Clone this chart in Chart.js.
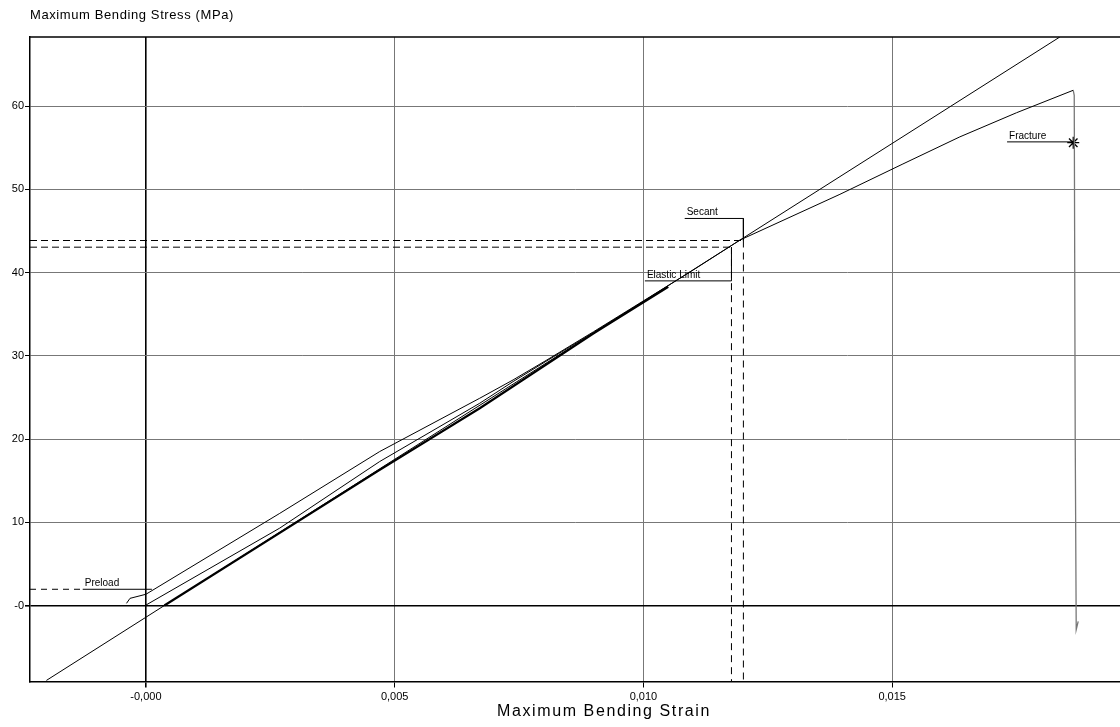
<!DOCTYPE html>
<html>
<head>
<meta charset="utf-8">
<script src="https://cdn.jsdelivr.net/npm/chart.js@4.4.1/dist/chart.umd.min.js"></script>
<style>
  body { margin: 0; background: #fff; overflow: hidden; }
  #wrap { width: 1120px; height: 727px; position: relative; }
</style>
</head>
<body>
<div id="wrap"><canvas id="stressChart"></canvas></div>
<script>
// axis ranges and ticks
var strainMin = -0.00233, strainMax = 0.01958;
var stressMin = -9.13, stressMax = 68.3;
var strainStep = 0.005, stressStep = 10;

// loading curve (from preload to fracture)
var loadStrain = [-0.00039, -0.00032, 0, 0.00269, 0.0047, 0.00671, 0.00738, 0.00806, 0.0090, 0.0100, 0.0110, 0.01194, 0.01395, 0.0152, 0.01636, 0.0175, 0.01864];
var loadStress = [0.26, 0.86, 1.35, 11.07, 18.5, 24.9, 27.1, 29.5, 32.9, 36.6, 40.3, 43.9, 49.4, 53.0, 56.3, 59.2, 61.9];

// drop after fracture
var dropStrain = [0.01864, 0.01866, 0.01868, 0.01870, 0.01874];
var dropStress = [61.9, 61.3, 20.0, -2.9, -1.9];

// second curve starting at zero
var zeroStrain = [0, 0.00269, 0.0047, 0.00671, 0.00738, 0.00806, 0.0090, 0.0100];
var zeroStress = [0.05, 9.3, 17.3, 24.3, 26.9, 29.4, 32.8, 36.5];

// heavy curve lying on the secant
var heavyStrain = [0.00037, 0.0047, 0.00671, 0.0090, 0.0105];
var heavyStress = [0, 16.3, 23.7, 32.7, 38.3];

// secant line
var secantStrain = [-0.0020, 0.01837];
var secantStress = [-9.0, 68.3];

// marked points
var preloadPt = [0.00012, 1.95];
var secantPt = [0.01201, 43.85];
var elasticPt = [0.01177, 43.05];
var fracturePt = [0.01864, 55.6];

// label texts and leader lines
var labelText = ['Preload', 'Secant', 'Elastic Limit', 'Fracture'];
var labelStrain = [-0.00127, 0.01083, 0.01003, 0.01731];
var labelStress = [1.95, 46.5, 39.0, 55.7];

function pts(xs, ys) {
    return xs.map(function(x, i) { return {x: x, y: ys[i]}; });
}

function line(data, opts) {
    var ds = {
        data: data,
        borderColor: '#000',
        borderWidth: 1,
        pointRadius: 0,
        fill: false,
        tension: 0
    };
    for (var k in opts) ds[k] = opts[k];
    return ds;
}

var datasets = [
    line(pts(secantStrain, secantStress), {}),
    line(pts(heavyStrain, heavyStress), {borderWidth: 2.2}),
    line(pts(zeroStrain, zeroStress), {}),
    line(pts(loadStrain, loadStress), {}),
    line(pts(dropStrain, dropStress), {borderColor: '#777', borderWidth: 1.3}),
    // preload
    line(pts([strainMin, labelStrain[0]], [preloadPt[1], preloadPt[1]]), {borderDash: [6, 5]}),
    line(pts([labelStrain[0], preloadPt[0]], [labelStress[0], preloadPt[1]]), {}),
    // secant marker
    line(pts([strainMin, secantPt[0]], [secantPt[1], secantPt[1]]), {borderDash: [7, 4]}),
    line(pts([secantPt[0], secantPt[0]], [secantPt[1], stressMin]), {borderDash: [7, 5]}),
    line(pts([labelStrain[1], secantPt[0], secantPt[0]], [labelStress[1], labelStress[1], secantPt[1]]), {}),
    // elastic limit marker
    line(pts([strainMin, elasticPt[0]], [elasticPt[1], elasticPt[1]]), {borderDash: [7, 4]}),
    line(pts([elasticPt[0], elasticPt[0]], [elasticPt[1], stressMin]), {borderDash: [7, 5]}),
    line(pts([labelStrain[2], elasticPt[0], elasticPt[0]], [labelStress[2], labelStress[2], elasticPt[1]]), {}),
    // fracture marker
    line(pts([labelStrain[3], fracturePt[0]], [labelStress[3], labelStress[3]]), {}),
    line(pts([fracturePt[0]], [fracturePt[1]]), {
        showLine: false, pointRadius: 6, pointStyle: 'star',
        pointBorderColor: '#000', pointBorderWidth: 1.3
    })
];

// frame on top and axis titles, plus annotation texts
var decorations = {
    id: 'decorations',
    afterDatasetsDraw: function(chart) {
        var ctx = chart.ctx, a = chart.chartArea;
        var xs = chart.scales.x, ys = chart.scales.y;
        ctx.save();
        ctx.strokeStyle = '#000';
        ctx.lineWidth = 1.5;
        ctx.beginPath();
        ctx.moveTo(a.left, a.top);
        ctx.lineTo(a.right, a.top);
        ctx.stroke();

        ctx.fillStyle = '#000';
        ctx.textAlign = 'left';
        ctx.textBaseline = 'bottom';
        ctx.font = '10px "Liberation Sans", Arial, sans-serif';
        for (var i = 0; i < labelText.length; i++) {
            ctx.fillText(labelText[i], xs.getPixelForValue(labelStrain[i]) + 2, ys.getPixelForValue(labelStress[i]) - 1);
        }

        ctx.textBaseline = 'middle';
        ctx.font = '13px "Liberation Sans", Arial, sans-serif';
        ctx.letterSpacing = '0.6px';
        ctx.fillText('Maximum Bending Stress (MPa)', 30, 15);
        ctx.textAlign = 'center';
        ctx.font = '16px "Liberation Sans", Arial, sans-serif';
        ctx.letterSpacing = '1.6px';
        ctx.fillText('Maximum Bending Strain', 604, 712);
        ctx.restore();
    }
};

function gridColor(ctx) {
    return ctx.tick && ctx.tick.value === 0 ? '#000' : '#777';
}
function gridWidth(ctx) {
    return ctx.tick && ctx.tick.value === 0 ? 1.6 : 1;
}

new Chart(document.getElementById('stressChart'), {
    type: 'line',
    data: { datasets: datasets },
    plugins: [decorations],
    options: {
        responsive: true,
        maintainAspectRatio: false,
        animation: false,
        layout: { autoPadding: false, padding: { top: 37, left: 0, right: 0, bottom: 0 } },
        plugins: {
            legend: { display: false },
            tooltip: { enabled: false }
        },
        scales: {
            x: {
                type: 'linear',
                min: strainMin,
                max: strainMax,
                afterFit: function(s) { s.height = 45.5; s.paddingLeft = 0; s.paddingRight = 0; },
                border: { color: '#000', width: 1.5 },
                grid: { color: gridColor, lineWidth: gridWidth, tickLength: 6, tickColor: '#000' },
                ticks: {
                    stepSize: strainStep,
                    includeBounds: false,
                    padding: 3,
                    maxRotation: 0,
                    color: '#000',
                    font: { family: '"Liberation Sans", Arial, sans-serif', size: 11 },
                    callback: function(v) {
                        if (Math.abs(v) < 1e-9) return '-0,000';
                        return v.toFixed(3).replace('.', ',');
                    }
                }
            },
            y: {
                type: 'linear',
                min: stressMin,
                max: stressMax,
                afterFit: function(s) { s.width = 30; s.paddingTop = 0; s.paddingBottom = 0; },
                border: { color: '#000', width: 1.5 },
                grid: { color: gridColor, lineWidth: gridWidth, tickLength: 5, tickColor: '#000' },
                ticks: {
                    stepSize: stressStep,
                    includeBounds: false,
                    padding: 1,
                    color: '#000',
                    font: { family: '"Liberation Sans", Arial, sans-serif', size: 11 },
                    callback: function(v) { return v === 0 ? '-0' : v; }
                }
            }
        }
    }
});
</script>
</body>
</html>
